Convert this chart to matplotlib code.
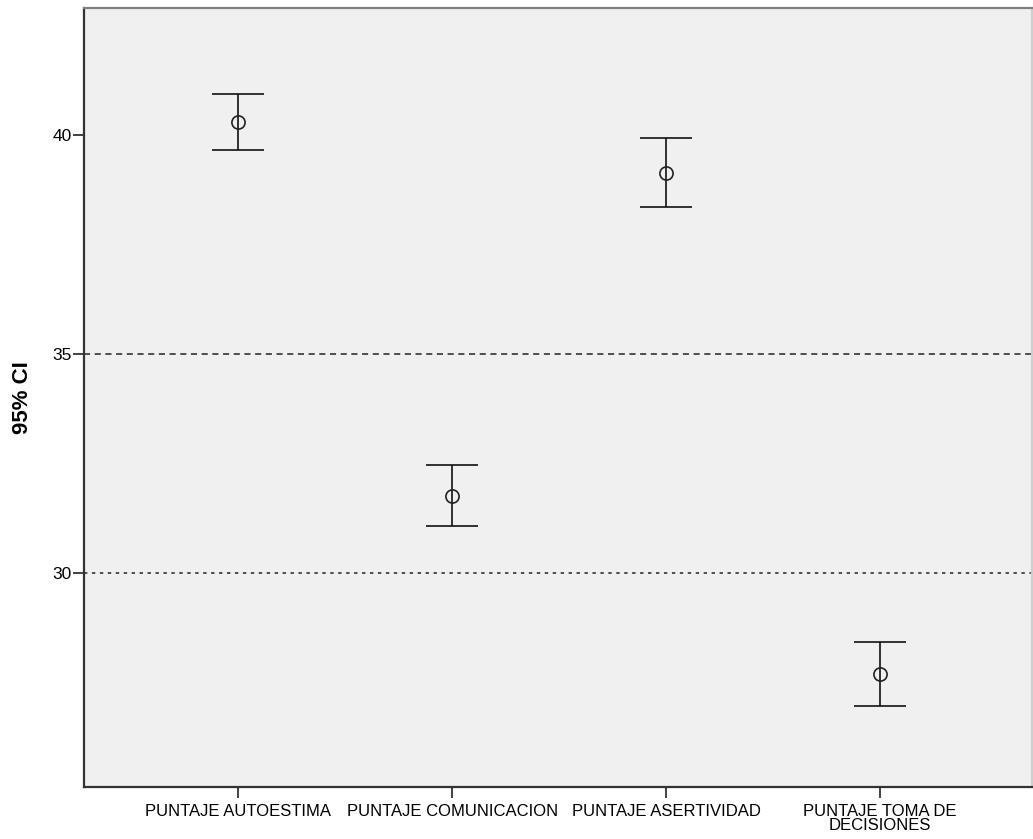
import matplotlib
matplotlib.use("Agg")
import matplotlib.pyplot as plt
import numpy as np

# Mean scores with 95% confidence interval bounds
categories = ["PUNTAJE AUTOESTIMA", "PUNTAJE COMUNICACION",
              "PUNTAJE ASERTIVIDAD", "PUNTAJE TOMA DE\nDECISIONES"]
means = [40.30, 31.76, 39.14, 27.69]
ci_lower = [39.66, 31.07, 38.36, 26.95]
ci_upper = [40.94, 32.47, 39.92, 28.42]
ref_lines = [35, 30]
y_ticks = [30, 35, 40]

plt.rcParams["font.family"] = ["Liberation Sans", "DejaVu Sans"]

fig = plt.figure(figsize=(10.33, 8.39), dpi=100)
ax = fig.add_axes([84 / 1033, 52 / 839, 948 / 1033, 779 / 839])
ax.set_facecolor("#f0f0f0")

x = np.arange(len(categories))
means_a = np.array(means)
err = [means_a - np.array(ci_lower), np.array(ci_upper) - means_a]

# Reference lines
ax.axhline(ref_lines[0], color="#222222", lw=1.1, dashes=(4, 3), zorder=1)
ax.axhline(ref_lines[1], color="#222222", lw=1.1, dashes=(2.2, 3), zorder=1)

eb = ax.errorbar(x, means, yerr=err, fmt="o", ms=9.5, mfc="none",
                 mec="#222222", mew=1.2, ecolor="#111111", elinewidth=1.2,
                 capsize=19, capthick=2.2, zorder=3)
for cap in eb[1]:
    cap.set_color("#5a5a5a")

ax.set_xlim(-0.72, 3.71)
ax.set_ylim(25.11, 42.90)
ax.set_xticks(x)
ax.set_xticklabels(categories, fontsize=12, linespacing=0.95)
ax.set_yticks(y_ticks)
ax.set_yticklabels([str(t) for t in y_ticks], fontsize=12.5)
ax.tick_params(axis="both", direction="out", length=8, width=1.3,
               color="#333333")
ax.tick_params(axis="y", pad=1)
ax.tick_params(axis="x", pad=4)

ax.set_ylabel("95% CI", fontsize=16, fontweight="bold", va="center")
ax.yaxis.set_label_coords(-0.065, 0.5)

for side, col in [("left", "#333333"), ("bottom", "#333333"),
                  ("top", "#808080"), ("right", "#cfcfcf")]:
    ax.spines[side].set_color(col)
    ax.spines[side].set_linewidth(1.6)

fig.savefig("out.png", dpi=100, facecolor="white")
